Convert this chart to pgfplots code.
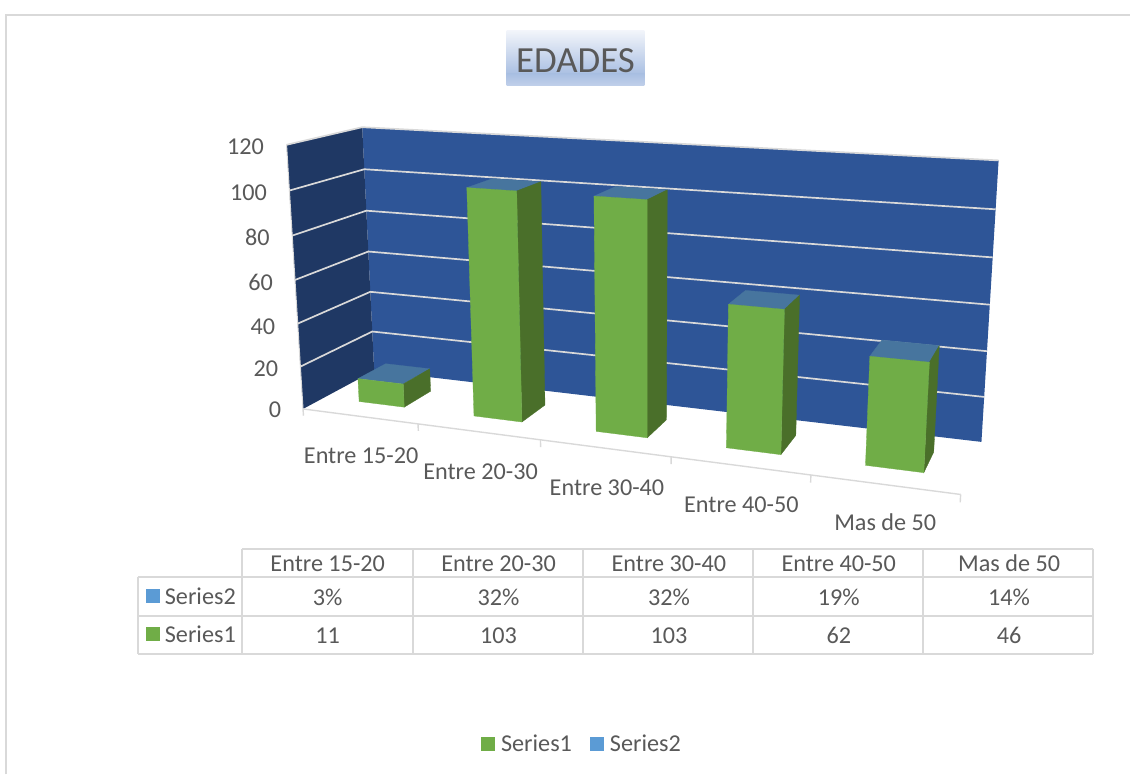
\documentclass[border=0pt]{standalone}
\usepackage{pgfplots}
\usepackage{pgfplotstable}
\usepackage{fontspec}
\setmainfont{Carlito}
\pgfplotsset{compat=1.18}

\definecolor{wallback}{HTML}{2E5597}
\definecolor{wallside}{HTML}{1F3864}
\definecolor{barfront}{HTML}{70AD47}
\definecolor{barside}{HTML}{4A6F2A}
\definecolor{bartop}{HTML}{47759E}
\definecolor{keyblue}{HTML}{5B9BD5}
\definecolor{rule}{HTML}{D9D9D9}
\definecolor{txt}{HTML}{595959}
\definecolor{titletop}{HTML}{F1F4FA}
\definecolor{titlemid}{HTML}{A9BFE2}
\definecolor{titlelow}{HTML}{C1D0EA}

% faces of a unit column: s across, t towards the viewer, h up
\pgfplotstableread{
s t h
0 1 0
1 1 0
1 1 1
0 1 1
}\frontface
\pgfplotstableread{
s t h
1 1 0
1 0 0
1 0 1
1 1 1
}\sideface
\pgfplotstableread{
s t h
0 1 1
1 1 1
1 0 1
0 0 1
}\topface
% walls and floor lines of the box, in box coordinates
\pgfplotstableread{
u d v
0 0 0
1 0 0
1 0 1
0 0 1
}\backwall
\pgfplotstableread{
u d v
0 1 0
0 0 0
0 0 1
0 1 1
}\sidewall
\pgfplotstableread{
u d
0 1
0 0
1 0
}\gridpath

% perspective of the box: u along categories, d depth, v = value/120
\newcommand{\boxplot}[2][]{\addplot[#1,forget plot] table[
    x expr={px(\thisrow{u},\thisrow{d},\thisrow{v})},
    y expr={py(\thisrow{u},\thisrow{d},\thisrow{v})}] {#2} --cycle;}
\newcommand{\gridline}[1]{\addplot[rule,line width=1.7bp,forget plot] table[
    x expr={px(\thisrow{u},\thisrow{d},#1/120)},
    y expr={py(\thisrow{u},\thisrow{d},#1/120)}] {\gridpath};}
\newcommand{\colface}[4]{\addplot[fill=#4,draw=#4,line width=.3bp,forget plot] table[
    x expr={px((#1+.51)/5+(\thisrow{s}-.5)*.08,.31+.4*\thisrow{t},\thisrow{h}*#2/120)},
    y expr={py((#1+.51)/5+(\thisrow{s}-.5)*.08,.31+.4*\thisrow{t},\thisrow{h}*#2/120)}] {#3} --cycle;}
\newcommand{\column}[2]{%
  \colface{#1}{#2}{\topface}{bartop}
  \colface{#1}{#2}{\sideface}{barside}
  \colface{#1}{#2}{\frontface}{barfront}}
\newcommand{\axtick}[1]{\addplot[rule,line width=1.4bp,forget plot] coordinates {
    ({px(#1,1,0)},{py(#1,1,0)}) ({px(#1,1,-.027)},{py(#1,1,-.027)})};}
% fixed text box, so the node centre sits at a set height above the baseline
\tikzset{chartlabel/.style={txt,yshift=-1bp,text height=16bp,text depth=0bp,font=\fontsize{24.3}{27}\selectfont}}
\newcommand{\lab}[3]{\node[chartlabel] at (axis cs:#1,#2) {#3};}
\newcommand{\ylab}[3]{\node[chartlabel,anchor=east] at (axis cs:#1,#2) {#3};}

\begin{document}
\begin{tikzpicture}
\begin{axis}[
    scale only axis,
    width=1131bp, height=775bp,
    xmin=0, xmax=1131, ymin=0, ymax=775,
    y dir=reverse,
    hide axis,
    clip=false,
    declare function={
      px(\U,\D,\V)=(374.5+470.28*\U-95.77*\D-27.2*\V)/(1-.14*\U-.081*\D-.042*\V);
      py(\U,\D,\V)=(371+9.38*\U+5.15*\D-249.05*\V)/(1-.14*\U-.081*\D-.042*\V);
    },
    legend image code/.code={\fill[#1] (0bp,-7bp) rectangle (14bp,7bp);},
    legend style={at={(0.515,0.0387)},anchor=center,draw=none,fill=none,
      legend columns=2,text=txt,font=\fontsize{24.3}{27}\selectfont,
      /tikz/every odd column/.style={column sep=4bp},
      /tikz/every even column/.style={column sep=16bp}},
  ]
  \path (axis cs:0,0) rectangle (axis cs:1131,775);

  % chart frame
  \draw[rule,line width=2bp] (axis cs:6.5,775) -- (axis cs:6.5,15.5) -- (axis cs:1131,15.5);

  % title box
  \path[top color=titletop,bottom color=titlemid] (axis cs:507,31) rectangle (axis cs:645,74.5);
  \path[top color=titlemid,bottom color=titlelow] (axis cs:507,74) rectangle (axis cs:645,86);
  \lab{576}{63.5}{\fontsize{37}{40}\selectfont EDADES}

  % walls
  \boxplot[fill=wallback,draw=none]{\backwall}
  \boxplot[fill=wallside,draw=none]{\sidewall}
  \gridline{20}
  \gridline{40}
  \gridline{60}
  \gridline{80}
  \gridline{100}
  \gridline{120}
  \addplot[rule,line width=1bp,forget plot] coordinates {
    ({px(0,1,0)},{py(0,1,0)}) ({px(0,1,1)},{py(0,1,1)})};

  % category axis on the floor
  \addplot[rule,line width=1.4bp,forget plot] coordinates {
    ({px(0,1,0)},{py(0,1,0)}) ({px(1,1,0)},{py(1,1,0)})};
  \axtick{0}
  \axtick{0.2}
  \axtick{0.4}
  \axtick{0.6}
  \axtick{0.8}
  \axtick{1}

  % Series1
  \column{0}{11}
  \column{1}{103}
  \column{2}{103}
  \column{3}{62}
  \column{4}{46}

  % value axis labels
  \ylab{267.6}{146}{120}
  \ylab{270.6}{192}{100}
  \ylab{273.3}{237}{80}
  \ylab{276.6}{281.3}{60}
  \ylab{279}{325.3}{40}
  \ylab{282}{368}{20}
  \ylab{285}{409.3}{0}

  % category labels
  \lab{361.5}{455}{Entre 15-20}
  \lab{481}{471}{Entre 20-30}
  \lab{607.5}{487}{Entre 30-40}
  \lab{742}{503.7}{Entre 40-50}
  \lab{886}{522}{Mas de 50}

  % data table
  \draw[rule,line width=2bp] (axis cs:242.7,549) -- (axis cs:1094.3,549);
  \draw[rule,line width=2bp] (axis cs:138,578) -- (axis cs:1094.3,578);
  \draw[rule,line width=2bp] (axis cs:138,616.2) -- (axis cs:1094.3,616.2);
  \draw[rule,line width=2bp] (axis cs:138,654.3) -- (axis cs:1094.3,654.3);
  \draw[rule,line width=2bp] (axis cs:138,578) -- (axis cs:138,654.3);
  \draw[rule,line width=2bp] (axis cs:242.7,549) -- (axis cs:242.7,654.3);
  \draw[rule,line width=2bp] (axis cs:412.9,549) -- (axis cs:412.9,654.3);
  \draw[rule,line width=2bp] (axis cs:583.2,549) -- (axis cs:583.2,654.3);
  \draw[rule,line width=2bp] (axis cs:753.5,549) -- (axis cs:753.5,654.3);
  \draw[rule,line width=2bp] (axis cs:923.9,549) -- (axis cs:923.9,654.3);
  \draw[rule,line width=2bp] (axis cs:1094.3,549) -- (axis cs:1094.3,654.3);

  \lab{328}{563}{Entre 15-20}
  \lab{499}{563}{Entre 20-30}
  \lab{669.5}{563}{Entre 30-40}
  \lab{839.5}{563}{Entre 40-50}
  \lab{1010}{563}{Mas de 50}

  \fill[keyblue] (axis cs:146,590) rectangle (axis cs:160,604);
  \fill[barfront] (axis cs:146,628) rectangle (axis cs:160,642);
  \node[chartlabel,anchor=west] at (axis cs:161.5,596.3) {Series2};
  \node[chartlabel,anchor=west] at (axis cs:161.5,634.3) {Series1};

  \lab{328}{597}{3\%}
  \lab{499}{597}{32\%}
  \lab{669.5}{597}{32\%}
  \lab{839.5}{597}{19\%}
  \lab{1010}{597}{14\%}
  \lab{328}{635.3}{11}
  \lab{499}{635.3}{103}
  \lab{669.5}{635.3}{103}
  \lab{839.5}{635.3}{62}
  \lab{1010}{635.3}{46}

  % legend
  \addlegendimage{fill=barfront,draw=none}
  \addlegendentry{Series1}
  \addlegendimage{fill=keyblue,draw=none}
  \addlegendentry{Series2}
\end{axis}
\end{tikzpicture}
\end{document}
